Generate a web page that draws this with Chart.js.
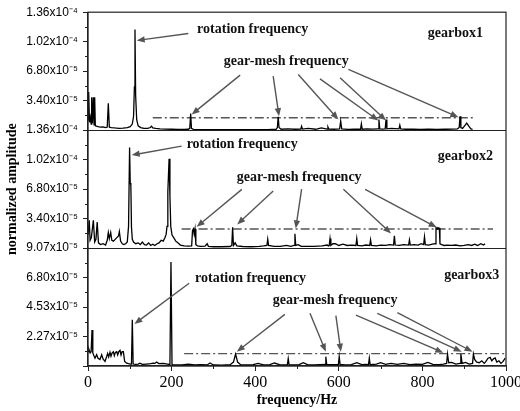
<!DOCTYPE html>
<html>
<head>
<meta charset="utf-8">
<script src="https://cdn.jsdelivr.net/npm/chart.js@4"></script>
<style>
  html, body { margin: 0; padding: 0; background: #fff; }
  #spectrum { display: block; }
</style>
</head>
<body>
<canvas id="spectrum" width="520" height="411"></canvas>
<script>
// amplitudes are in units of 1e-5 (normalized), frequencies in Hz

// gearbox1 spectrum
const FREQ_1 = [
  0, 1.6, 3.5, 5.5, 7.5, 8.8, 10.5, 12.8, 14.5, 16,
  17.5, 20, 24, 30, 36, 42, 46, 48.6, 51, 56,
  64, 74, 84, 94, 101, 106, 109, 111, 112.4, 114,
  116.5, 120, 126, 134, 143, 149, 152, 155, 162, 172,
  185, 200, 215, 230, 240, 243.5, 245.6, 247.5, 252, 265,
  285, 305, 330, 355, 380, 405, 430, 450, 453, 455,
  457, 462, 478, 495, 509, 511, 513, 527, 545, 558,
  572, 574, 576, 588, 602, 604.5, 607, 622, 637, 652,
  654, 656, 668, 680, 694, 696, 698, 704, 711, 713,
  715, 726, 744, 746, 748, 760, 778, 795, 815, 835,
  855, 872, 884, 888, 890, 892, 896, 901, 906, 911,
  916, 920
];
const AMP_1 = [
  1.2, 4.4, 0.9, 1.5, 0.7, 3.8, 0.8, 3.8, 0.6, 3.8,
  0.5, 0.45, 0.4, 0.35, 0.38, 0.3, 0.35, 3.1, 0.35, 0.3,
  0.25, 0.2, 0.22, 0.3, 0.4, 0.7, 1.6, 5.0, 11.6, 4.0,
  1.2, 0.5, 0.3, 0.2, 0.2, 0.3, 0.45, 0.25, 0.2, 0.15,
  0.12, 0.1, 0.08, 0.08, 0.1, 0.2, 1.9, 0.2, 0.08, 0.06,
  0.05, 0.06, 0.05, 0.06, 0.05, 0.07, 0.06, 0.1, 0.3, 1.55,
  0.3, 0.1, 0.15, 0.1, 0.12, 0.45, 0.12, 0.2, 0.1, 0.25,
  0.12, 0.35, 0.12, 0.1, 0.15, 1.04, 0.15, 0.08, 0.1, 0.1,
  0.73, 0.1, 0.15, 0.12, 0.15, 1.23, 0.15, 0.12, 0.15, 1.23,
  0.15, 0.2, 0.15, 0.58, 0.15, 0.1, 0.12, 0.08, 0.1, 0.08,
  0.1, 0.12, 0.15, 0.3, 1.6, 0.3, 0.2, 0.5, 0.8, 0.45,
  0.15, 0.1
];

// gearbox2 spectrum
const FREQ_2 = [
  0, 3, 5, 8, 12.8, 16, 19, 22, 25, 30,
  36, 42, 46, 48.6, 51, 54.3, 57, 61, 65, 69,
  73, 75, 78, 82, 86, 90, 94, 97, 99.5, 101,
  102.5, 104, 106, 109, 114, 120, 125, 130, 135, 140,
  145, 150, 155, 160, 165, 170, 175, 180, 184, 187,
  189, 191, 194, 196, 198, 201, 205, 210, 215, 221,
  230, 240, 248, 250, 252, 254, 256, 258, 262, 270,
  280, 285, 288, 300, 320, 340, 344, 346, 348, 352,
  356, 370, 390, 410, 420, 428, 430, 432, 445, 460,
  475, 485, 493, 495, 497, 503, 510, 525, 540, 560,
  572, 575, 577, 579, 581, 586, 592, 600, 610, 620,
  630, 641, 643, 645, 655, 665, 674, 676, 678, 690,
  700, 712, 722, 731, 733, 735, 745, 755, 767, 769,
  771, 780, 790, 797, 803, 805, 807, 815, 824, 831,
  832.5, 835, 837, 840.5, 842, 846, 852, 860, 870, 880,
  890, 900, 910, 918, 925, 932, 940, 946, 950
];
const AMP_2 = [
  1.5, 3.2, 0.9, 1.2, 3.2, 0.7, 1.0, 3.0, 0.6, 0.4,
  0.5, 0.35, 0.9, 1.8, 1.1, 1.8, 0.9, 0.8, 1.0, 1.2,
  1.4, 1.9, 0.8, 0.5, 0.4, 0.5, 0.7, 2.5, 11.6, 7.5,
  7.3, 2.4, 1.0, 0.7, 0.5, 0.6, 0.4, 0.7, 0.4, 0.35,
  0.6, 0.3, 0.45, 0.3, 0.5, 0.6, 0.9, 0.8, 1.2, 1.6,
  2.5, 6.5, 10.3, 6.0, 2.5, 1.5, 1.2, 0.8, 0.6, 0.35,
  0.25, 0.22, 0.25, 2.0, 2.2, 1.6, 2.2, 0.4, 0.25, 0.2,
  0.22, 0.5, 0.2, 0.15, 0.15, 0.18, 0.3, 2.4, 0.3, 0.6,
  0.25, 0.18, 0.15, 0.2, 0.25, 0.3, 1.03, 0.3, 0.2, 0.2,
  0.3, 0.2, 0.3, 1.65, 0.3, 0.4, 0.2, 0.2, 0.2, 0.25,
  0.35, 0.25, 0.3, 1.1, 0.3, 0.5, 0.5, 0.3, 0.45, 0.3,
  0.35, 0.3, 1.1, 0.3, 0.25, 0.35, 0.3, 0.95, 0.3, 0.25,
  0.35, 0.3, 0.4, 0.35, 1.4, 0.35, 0.3, 0.4, 0.35, 0.95,
  0.35, 0.4, 0.35, 0.5, 0.4, 1.3, 0.4, 0.35, 0.45, 0.5,
  2.35, 2.2, 2.35, 2.3, 0.5, 0.4, 0.3, 0.35, 0.3, 0.35,
  0.25, 0.3, 0.4, 0.3, 0.45, 0.3, 0.5, 0.35, 0.5
];

// gearbox3 spectrum
const FREQ_3 = [
  0, 2, 5, 7.5, 9.6, 11.5, 14, 16.7, 20.7, 24,
  28.7, 32.7, 36, 40.7, 44.7, 47, 49.5, 52.6, 55, 57.5,
  60.6, 63, 65.5, 68.6, 71, 73.5, 76.6, 79, 81.5, 84.6,
  87.7, 92.5, 97, 101, 104, 106, 108, 114, 120, 124,
  130, 140, 150, 156, 160, 164, 170, 180, 190, 196,
  198.5, 201, 210, 225, 240, 255, 270, 285, 292, 300,
  320, 340, 348, 353, 358, 365, 380, 395, 407, 420,
  435, 446, 458, 470, 477, 479, 481, 495, 505, 515,
  525, 540, 555, 567, 569, 571, 585, 599, 601, 603,
  615, 630, 643, 655, 665, 671, 673, 675, 690, 700,
  712, 725, 740, 755, 770, 785, 800, 813, 825, 840,
  850, 858, 860, 863, 870, 880, 890, 892, 895, 903,
  912, 920, 922, 925, 930, 936, 942, 948, 952, 957,
  962, 966, 970, 974, 978, 983, 988, 993, 998
];
const AMP_3 = [
  1.1, 1.3, 1.0, 1.1, 2.77, 1.0, 0.8, 0.6, 0.87, 0.6,
  0.5, 0.87, 0.55, 0.35, 0.73, 0.97, 0.7, 1.05, 0.75, 1.0,
  1.1, 0.8, 1.05, 1.1, 0.85, 1.1, 1.2, 0.85, 1.1, 1.1,
  0.35, 0.22, 0.18, 0.15, 0.15, 3.56, 0.15, 0.12, 0.15, 0.22,
  0.12, 0.15, 0.18, 0.22, 0.2, 0.3, 0.18, 0.2, 0.15, 0.12,
  8.0, 0.1, 0.08, 0.08, 0.15, 0.08, 0.1, 0.08, 0.23, 0.08,
  0.07, 0.1, 0.3, 0.92, 0.3, 0.1, 0.08, 0.1, 0.2, 0.08,
  0.1, 0.23, 0.1, 0.08, 0.1, 0.56, 0.1, 0.08, 0.1, 0.25,
  0.1, 0.08, 0.1, 0.12, 0.72, 0.12, 0.1, 0.12, 0.72, 0.12,
  0.08, 0.1, 0.25, 0.1, 0.12, 0.1, 0.6, 0.1, 0.15, 0.25,
  0.12, 0.2, 0.12, 0.2, 0.1, 0.15, 0.12, 0.28, 0.12, 0.1,
  0.15, 0.2, 0.92, 0.25, 0.28, 0.15, 0.2, 0.92, 0.2, 0.28,
  0.15, 0.2, 0.92, 0.5, 0.3, 0.25, 0.4, 0.2, 0.35, 0.6,
  0.66, 0.4, 0.55, 0.62, 0.3, 0.4, 0.2, 0.35, 0.6
];

// dash-dot gear-mesh reference lines, one per panel
const MESH_LEVEL = [1.42, 2.2, 0.95];
const MESH_FROM = [155, 224, 230];
const MESH_TO = [921, 969, 997];

// axis ticks
const X_TICKS = [0, 200, 400, 600, 800, 1000];
const Y1_TICKS = [0, 3.4, 6.8, 10.2, 13.6];
const Y1_LABELS = ['', '3.40x10\u207B\u2075', '6.80x10\u207B\u2075', '1.02x10\u207B\u2074', '1.36x10\u207B\u2074'];
const Y2_TICKS = [0, 3.4, 6.8, 10.2, 13.6];
const Y2_LABELS = ['', '3.40x10\u207B\u2075', '6.80x10\u207B\u2075', '1.02x10\u207B\u2074', '1.36x10\u207B\u2074'];
const Y3_TICKS = [0, 2.27, 4.53, 6.8, 9.07];
const Y3_LABELS = ['', '2.27x10\u207B\u2075', '4.53x10\u207B\u2075', '6.80x10\u207B\u2075', '9.07x10\u207B\u2075'];

// annotations, anchored in data coordinates (Hz, amplitude) of a panel
const NOTE_TEXT = [
  { axis: 'y1', text: 'rotation frequency', x: 261, y: 11.64 },
  { axis: 'y1', text: 'gear-mesh frequency', x: 325, y: 7.95 },
  { axis: 'y1', text: 'gearbox1', x: 813, y: 11.21 },
  { axis: 'y2', text: 'rotation frequency', x: 236, y: 11.99 },
  { axis: 'y2', text: 'gear-mesh frequency', x: 356, y: 8.15 },
  { axis: 'y2', text: 'gearbox2', x: 837, y: 10.6 },
  { axis: 'y3', text: 'rotation frequency', x: 256, y: 6.74 },
  { axis: 'y3', text: 'gear-mesh frequency', x: 442, y: 5.02 },
  { axis: 'y3', text: 'gearbox3', x: 852, y: 6.99 }
];
const ARROWS = [
  { axis: 'y1', from: [240, 11.14], to: [116.5, 10.34] },
  { axis: 'y1', from: [364, 6.34], to: [248, 1.81] },
  { axis: 'y1', from: [443, 6.22], to: [457, 1.61] },
  { axis: 'y1', from: [503, 6.42], to: [599, 1.23] },
  { axis: 'y1', from: [555, 5.91], to: [694.5, 1.12] },
  { axis: 'y1', from: [603, 6.03], to: [713, 1.12] },
  { axis: 'y1', from: [623, 7.0], to: [886, 1.5] },
  { axis: 'y2', from: [224, 11.76], to: [104.5, 10.72] },
  { axis: 'y2', from: [368, 6.77], to: [260, 2.45] },
  { axis: 'y2', from: [443, 6.57], to: [357, 2.73] },
  { axis: 'y2', from: [511, 6.8], to: [497, 2.27] },
  { axis: 'y2', from: [611, 6.77], to: [725, 1.69] },
  { axis: 'y2', from: [663, 6.77], to: [834, 2.39] },
  { axis: 'y3', from: [242, 6.36], to: [111, 3.23] },
  { axis: 'y3', from: [471, 3.97], to: [356, 1.1] },
  { axis: 'y3', from: [531, 4.05], to: [569, 1.1] },
  { axis: 'y3', from: [593, 3.87], to: [605, 1.1] },
  { axis: 'y3', from: [641, 3.92], to: [850, 1.02] },
  { axis: 'y3', from: [692, 4.05], to: [894, 1.1] },
  { axis: 'y3', from: [740, 4.1], to: [920, 1.1] }
];

const SERIF = '"Liberation Serif", "Times New Roman", serif';
const SANS = '"Liberation Sans", Arial, sans-serif';
const AXIS_COLOR = '#222';
const NOTE_COLOR = '#555';

/**
 * Zips frequency and amplitude arrays into {x, y} points.
 */
function toPoints(freqs, amps) {
  return freqs.map((f, i) => ({ x: f, y: amps[i] }));
}

/**
 * Builds one spectrum dataset bound to a panel axis.
 */
function spectrumDataset(freqs, amps, axisId) {
  return {
    data: toPoints(freqs, amps),
    yAxisID: axisId,
    borderColor: '#000',
    borderWidth: 1.3,
    pointRadius: 0,
    tension: 0
  };
}

/**
 * Builds the dash-dot gear-mesh line for a panel.
 */
function meshDataset(i, axisId) {
  return {
    data: [{ x: MESH_FROM[i], y: MESH_LEVEL[i] }, { x: MESH_TO[i], y: MESH_LEVEL[i] }],
    yAxisID: axisId,
    borderColor: NOTE_COLOR,
    borderWidth: 1.4,
    borderDash: [9, 3, 2, 3],
    pointRadius: 0
  };
}

/**
 * Builds a stacked left y axis for one panel.
 */
function panelScale(ticks, labels, weight, title) {
  return {
    type: 'linear',
    position: 'left',
    stack: 'panels',
    stackWeight: 1,
    weight: weight,
    min: ticks[0],
    max: ticks[ticks.length - 1],
    afterBuildTicks: scale => { scale.ticks = ticks.map(v => ({ value: v })); },
    afterFit: scale => { scale.width = 88; },
    ticks: {
      callback: (value, index) => labels[index],
      autoSkip: false,
      font: { family: SANS, size: 12 },
      color: '#000',
      padding: 5
    },
    grid: { drawOnChartArea: false, tickLength: 5, color: AXIS_COLOR },
    border: { display: true, color: AXIS_COLOR, width: 1.2 },
    title: title ? {
      display: true,
      text: title,
      font: { family: SERIF, size: 14, weight: 'bold' },
      color: '#000',
      padding: { top: 4, bottom: 0 }
    } : { display: false }
  };
}

/**
 * Draws a line with a filled arrowhead at (x2, y2).
 */
function drawArrow(ctx, x1, y1, x2, y2) {
  const ang = Math.atan2(y2 - y1, x2 - x1);
  const len = 8;
  const half = 3.2;
  ctx.beginPath();
  ctx.moveTo(x1, y1);
  ctx.lineTo(x2 - Math.cos(ang) * len * 0.8, y2 - Math.sin(ang) * len * 0.8);
  ctx.stroke();
  ctx.beginPath();
  ctx.moveTo(x2, y2);
  ctx.lineTo(x2 - Math.cos(ang) * len - Math.sin(ang) * half, y2 - Math.sin(ang) * len + Math.cos(ang) * half);
  ctx.lineTo(x2 - Math.cos(ang) * len + Math.sin(ang) * half, y2 - Math.sin(ang) * len - Math.cos(ang) * half);
  ctx.closePath();
  ctx.fill();
}

const panelPlugin = {
  id: 'panels',
  afterDraw(chart) {
    const ctx = chart.ctx;
    const area = chart.chartArea;
    const x = chart.scales.x;
    ctx.save();

    // frame and panel separators
    ctx.strokeStyle = AXIS_COLOR;
    ctx.lineWidth = 1.2;
    ctx.strokeRect(area.left, area.top, area.right - area.left, area.bottom - area.top);
    ['y1', 'y2'].forEach(id => {
      const yb = Math.round(chart.scales[id].bottom) + 0.5;
      ctx.beginPath();
      ctx.moveTo(area.left, yb);
      ctx.lineTo(area.right, yb);
      ctx.stroke();
    });

    // minor ticks
    ctx.lineWidth = 1;
    [['y1', Y1_TICKS], ['y2', Y2_TICKS], ['y3', Y3_TICKS]].forEach(([id, ticks]) => {
      const s = chart.scales[id];
      for (let i = 0; i < ticks.length - 1; i++) {
        const py = Math.round(s.getPixelForValue((ticks[i] + ticks[i + 1]) / 2)) + 0.5;
        ctx.beginPath();
        ctx.moveTo(area.left - 3, py);
        ctx.lineTo(area.left, py);
        ctx.stroke();
      }
    });
    for (let i = 0; i < X_TICKS.length - 1; i++) {
      const px = Math.round(x.getPixelForValue((X_TICKS[i] + X_TICKS[i + 1]) / 2)) + 0.5;
      ctx.beginPath();
      ctx.moveTo(px, area.bottom);
      ctx.lineTo(px, area.bottom + 3);
      ctx.stroke();
    }

    // arrows
    ctx.strokeStyle = NOTE_COLOR;
    ctx.fillStyle = NOTE_COLOR;
    ctx.lineWidth = 1.4;
    ARROWS.forEach(a => {
      const y = chart.scales[a.axis];
      drawArrow(ctx,
        x.getPixelForValue(a.from[0]), y.getPixelForValue(a.from[1]),
        x.getPixelForValue(a.to[0]), y.getPixelForValue(a.to[1]));
    });

    // labels
    ctx.fillStyle = '#111';
    ctx.font = 'bold 14px ' + SERIF;
    ctx.textAlign = 'left';
    ctx.textBaseline = 'middle';
    NOTE_TEXT.forEach(n => {
      ctx.fillText(n.text, x.getPixelForValue(n.x), chart.scales[n.axis].getPixelForValue(n.y));
    });
    ctx.restore();
  }
};

new Chart(document.getElementById('spectrum'), {
  type: 'line',
  data: {
    datasets: [
      spectrumDataset(FREQ_1, AMP_1, 'y1'),
      spectrumDataset(FREQ_2, AMP_2, 'y2'),
      spectrumDataset(FREQ_3, AMP_3, 'y3'),
      meshDataset(0, 'y1'),
      meshDataset(1, 'y2'),
      meshDataset(2, 'y3')
    ]
  },
  options: {
    responsive: false,
    devicePixelRatio: 1,
    animation: false,
    layout: { padding: { top: 11, right: 14, bottom: 0, left: 0 } },
    plugins: { legend: { display: false }, tooltip: { enabled: false } },
    scales: {
      x: {
        type: 'linear',
        position: 'bottom',
        min: 0,
        max: 1000,
        afterBuildTicks: scale => { scale.ticks = X_TICKS.map(v => ({ value: v })); },
        afterFit: scale => { scale.height = 45; scale.paddingLeft = 0; scale.paddingRight = 0; },
        ticks: {
          callback: value => String(value),
          font: { family: SERIF, size: 16 },
          color: '#000',
          padding: 2,
          maxRotation: 0
        },
        grid: { drawOnChartArea: false, tickLength: 5, color: AXIS_COLOR },
        border: { display: true, color: AXIS_COLOR, width: 1.2 },
        title: {
          display: true,
          text: 'frequency/Hz',
          font: { family: SERIF, size: 14, weight: 'bold' },
          color: '#000',
          padding: { top: 0, bottom: 2 }
        }
      },
      y3: panelScale(Y3_TICKS, Y3_LABELS, 1),
      y2: panelScale(Y2_TICKS, Y2_LABELS, 2, 'normalized amplitude'),
      y1: panelScale(Y1_TICKS, Y1_LABELS, 3)
    }
  },
  plugins: [panelPlugin]
});
</script>
</body>
</html>
